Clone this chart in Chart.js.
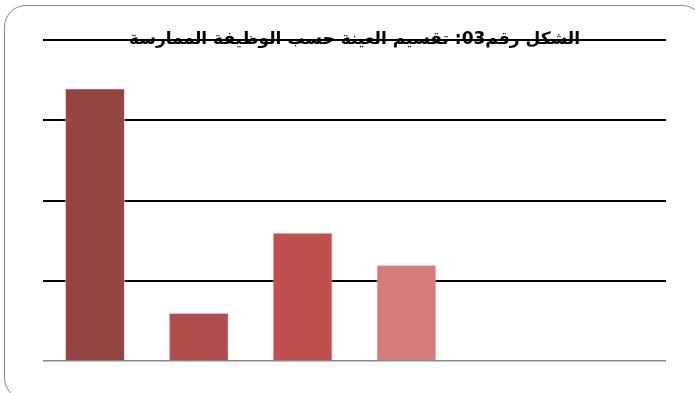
<!DOCTYPE html>
<html lang="ar">
<head>
<meta charset="utf-8">
<title>الشكل رقم03</title>
<script src="https://cdn.jsdelivr.net/npm/chart.js@4.4.1/dist/chart.umd.min.js"></script>
<style>
  html, body { margin: 0; padding: 0; background: #fff; }
  #wrap { position: relative; width: 695px; height: 393px; overflow: hidden; }
  #frame {
    position: absolute; left: 4px; top: 5px; width: 700px; height: 395px;
    border: 1.5px solid #8a8a8a; border-radius: 22px; box-sizing: border-box;
  }
  #chart { position: absolute; left: 0; top: 0; }
</style>
</head>
<body>
<div id="wrap">
  <div id="frame"></div>
  <canvas id="chart" width="695" height="393"></canvas>
</div>
<script>
//====================== DATA ======================//
const chartTitle = 'الشكل رقم03: تقسيم العينة حسب الوظيفة الممارسة';
const categories = ['1', '2', '3', '4', '5', '6'];
const counts = [17, 3, 8, 6, null, null];
const barColors = ['#954442', '#b04e4b', '#c0504d', '#d37c7a', '#c0504d', '#c0504d'];
const yMax = 20;
const yStep = 5;

//============== title drawn across the top gridline ==============//
const titleOverPlot = {
    id: 'titleOverPlot',
    afterDraw(chart){
        const ctx = chart.ctx;
        const area = chart.chartArea;
        ctx.save();
        ctx.font = 'bold 17px "DejaVu Sans", Arial, sans-serif';
        ctx.fillStyle = '#000';
        ctx.textAlign = 'center';
        ctx.textBaseline = 'middle';
        ctx.direction = 'rtl';
        ctx.fillText(chartTitle, (area.left + area.right) / 2, area.top);
        ctx.restore();
    }
};

const ctx = document.getElementById('chart').getContext('2d');
const myChart = new Chart(ctx, {
    type: 'bar',
    data: {
        labels: categories,
        datasets: [{
            data: counts,
            backgroundColor: barColors,
            borderColor: 'rgba(255, 220, 220, 0.6)',
            borderWidth: { left: 1, right: 1, top: 1, bottom: 0 },
            categoryPercentage: 1,
            barPercentage: 0.58
        }]
    },
    options: {
        responsive: false,
        animation: false,
        layout: { padding: { left: 43, right: 29, top: 40, bottom: 32 } },
        plugins: {
            legend: { display: false },
            title: { display: false },
            tooltip: { enabled: false }
        },
        scales: {
            x: { display: false },
            y: {
                min: 0,
                max: yMax,
                ticks: { display: false, stepSize: yStep },
                border: { display: false },
                grid: {
                    drawTicks: false,
                    color: (c) => c.tick && c.tick.value === 0 ? '#8a8a8a' : '#000',
                    lineWidth: (c) => c.tick && c.tick.value === 0 ? 1.5 : 2
                }
            }
        }
    },
    plugins: [titleOverPlot]
});
</script>
</body>
</html>
